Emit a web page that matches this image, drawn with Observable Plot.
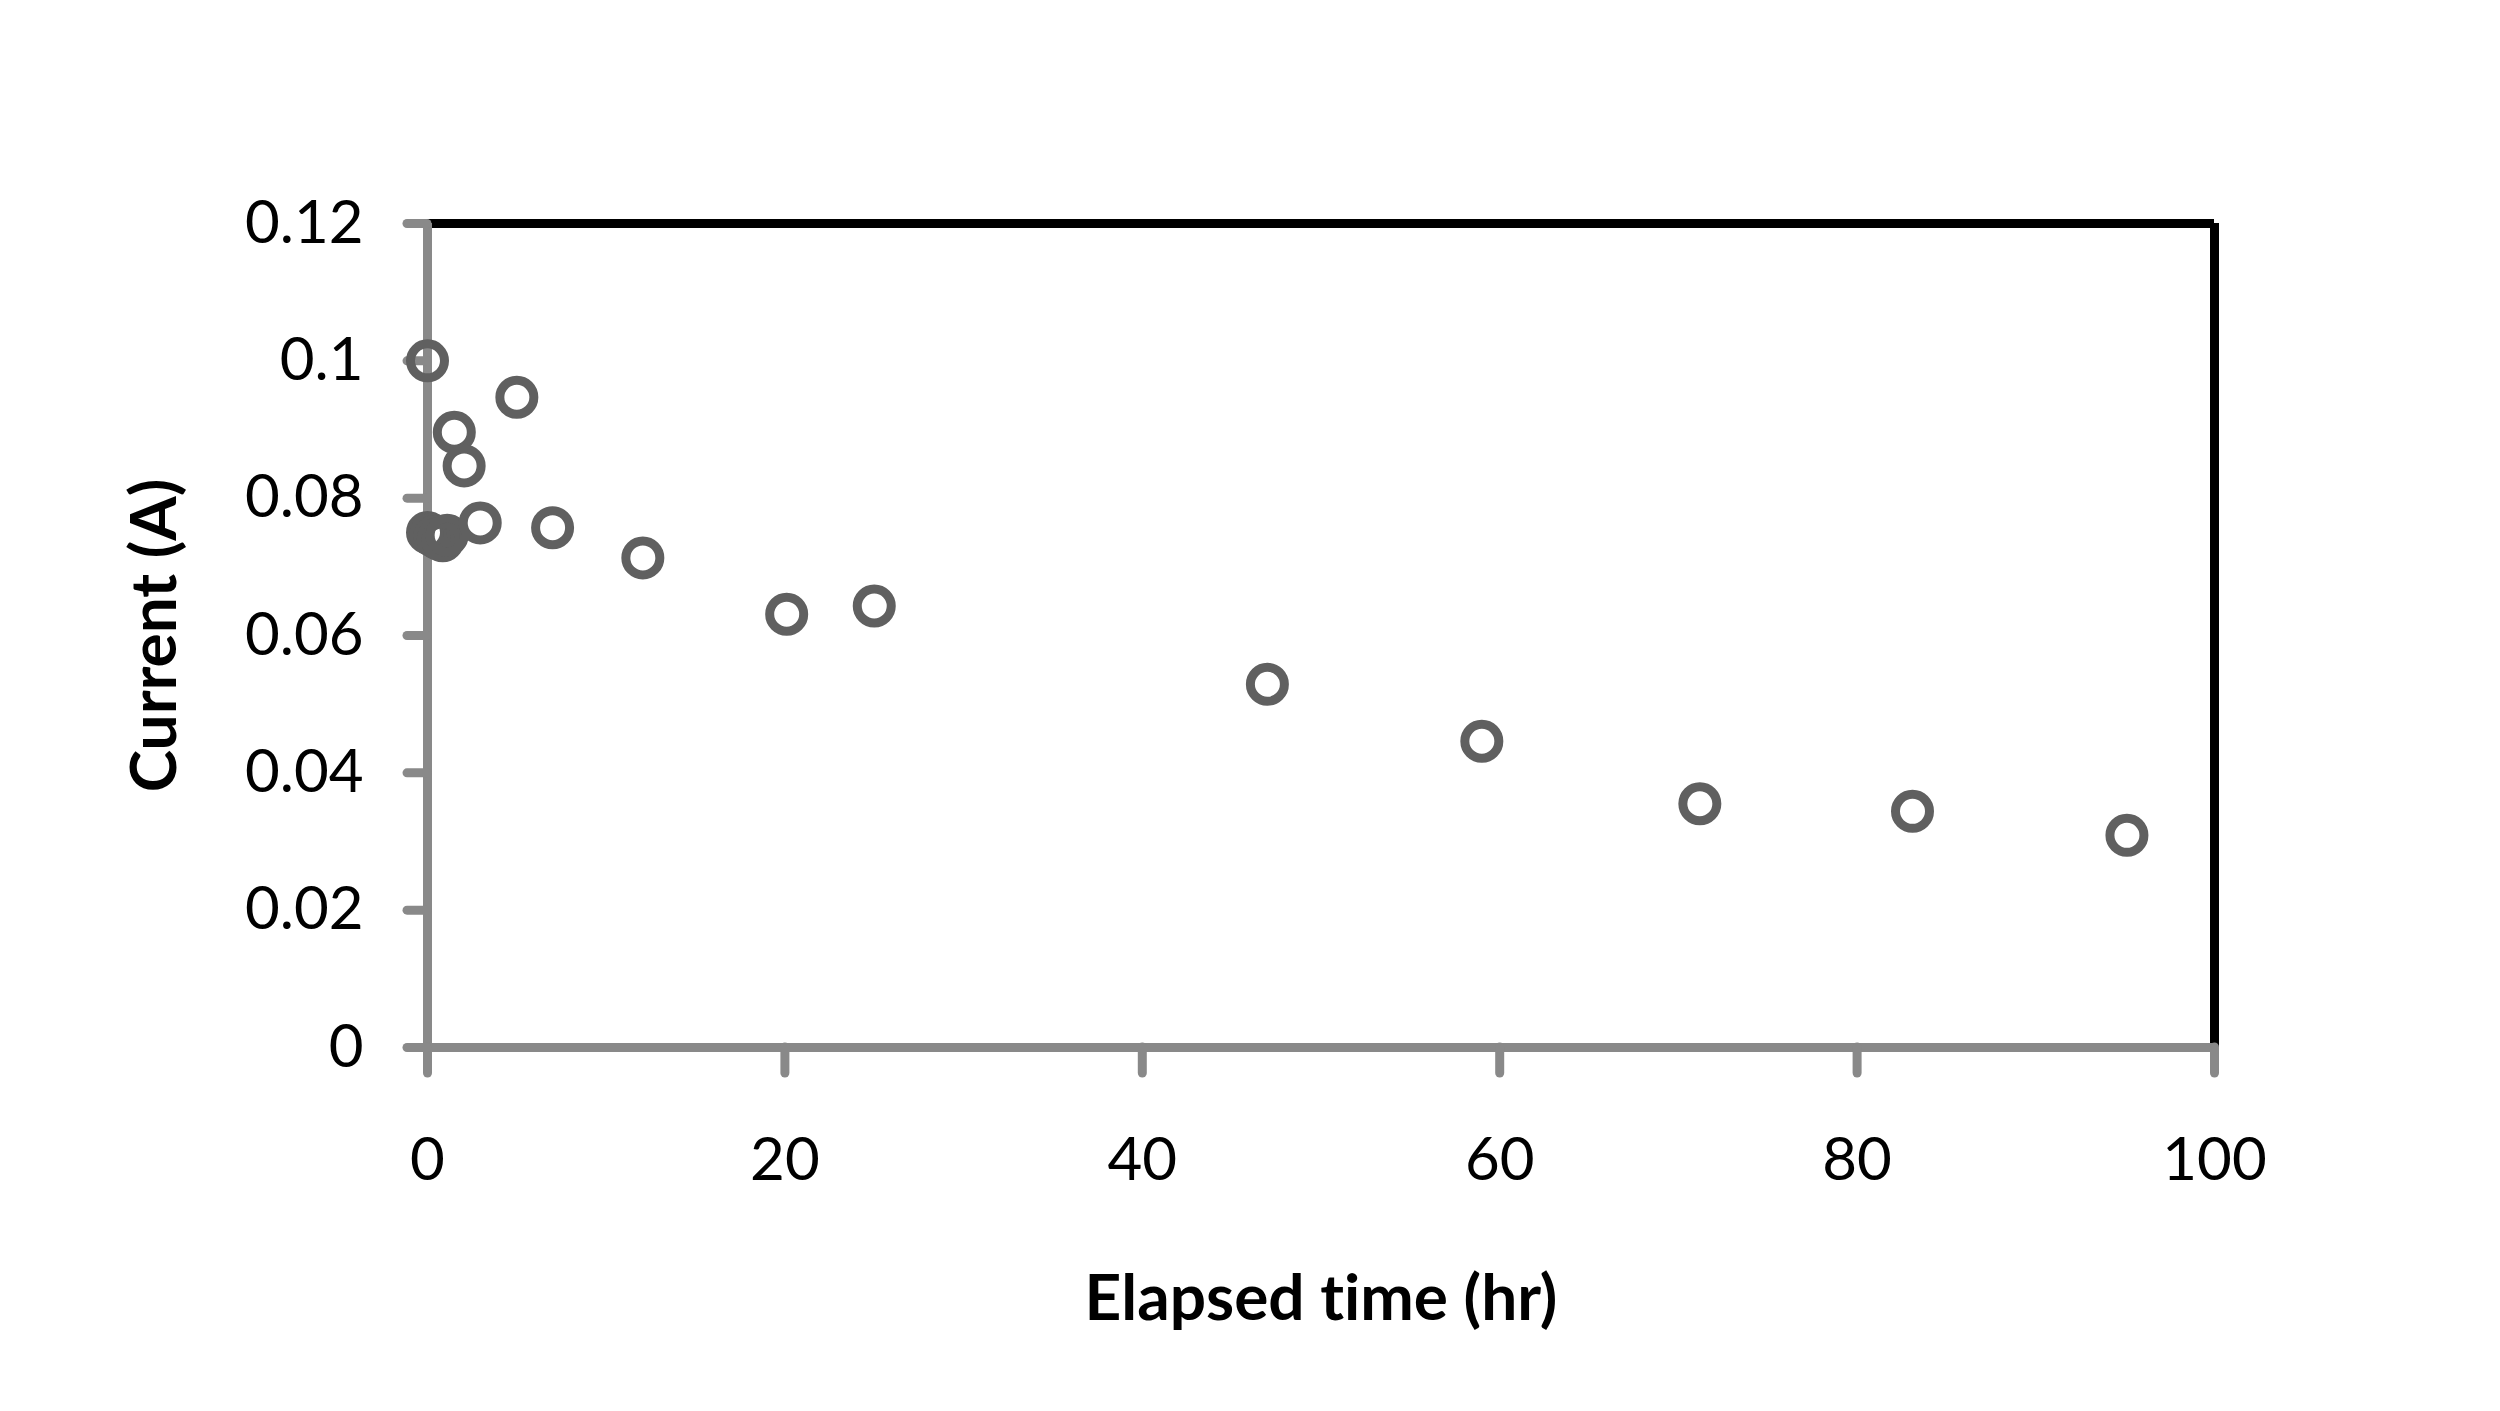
<!DOCTYPE html>
<html><head><meta charset="utf-8">
<script src="https://cdn.jsdelivr.net/npm/d3@7"></script>
<script src="https://cdn.jsdelivr.net/npm/@observablehq/plot@0.6"></script>
<style>
html,body{margin:0;padding:0;background:#fff;}
#chart svg{display:block;font-variant-ligatures:none;}
g[aria-label="x-axis tick"], g[aria-label="y-axis tick"]{stroke:#898989;stroke-width:9px;stroke-linecap:round;}
</style></head><body><div id="chart"></div>
<script>
const timeHr   = [0, 0.2, 0.4, 0.6, 0.85, 1.1, 0, 1.5, 2.05, 5.0, 2.95, 7.0, 12.05, 20.1, 25.0, 47.0, 59.0, 71.2, 83.1, 95.1];
const currentA = [0.0750, 0.0747, 0.0744, 0.0741, 0.0738, 0.0746, 0.100, 0.0896, 0.0847, 0.0947, 0.0764, 0.0757, 0.0713, 0.0631, 0.0643, 0.0529, 0.0446, 0.0355, 0.0344, 0.0309];
const xTicks = [0, 20, 40, 60, 80, 100];
const yTicks = [0, 0.02, 0.04, 0.06, 0.08, 0.1, 0.12];
const xLabel = "Elapsed time (hr)";
const yLabel = "Current (A)";

const data = timeHr.map((t, i) => ({t, c: currentA[i]}));

const plot = Plot.plot({
  width: 2500, height: 1411,
  marginLeft: 427, marginRight: 286, marginTop: 223, marginBottom: 364,
  style: {fontFamily: "Lato, 'Open Sans', sans-serif", background: "#fff", color: "#000", overflow: "visible"},
  x: {domain: [0, 100]},
  y: {domain: [0, 0.12]},
  marks: [
    Plot.ruleY([0.12], {stroke: "#000", strokeWidth: 9}),
    Plot.ruleX([100], {stroke: "#000", strokeWidth: 9}),
    Plot.ruleX([0], {stroke: "#898989", strokeWidth: 9}),
    Plot.ruleY([0], {stroke: "#898989", strokeWidth: 9}),
    Plot.axisX({ticks: xTicks, tickSize: 26, tickPadding: 64, fontSize: 60, label: null, tickFormat: d => String(d)}),
    Plot.axisY({ticks: yTicks, tickSize: 20, tickPadding: 44, fontSize: 60, label: null, tickFormat: d => String(d)}),
    Plot.text([xLabel], {text: d => d, frameAnchor: "bottom", dy: 252, lineAnchor: "middle", fontSize: 64, fontWeight: "bold"}),
    Plot.text([yLabel], {text: d => d, frameAnchor: "left", dx: -272, rotate: -90, textAnchor: "middle", lineAnchor: "middle", fontSize: 64, fontWeight: "bold"}),
    Plot.dot(data, {x: "t", y: "c", r: 17, stroke: "#606060", strokeWidth: 9, fill: "none"})
  ]
});
document.getElementById("chart").appendChild(plot);
</script></body></html>
